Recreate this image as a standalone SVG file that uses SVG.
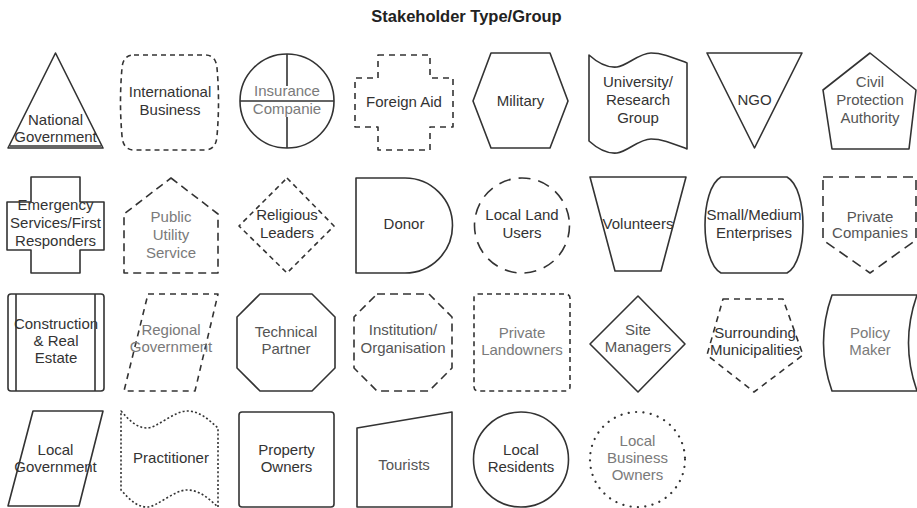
<svg xmlns="http://www.w3.org/2000/svg" width="917" height="508" viewBox="0 0 917 508">
<style>
  .s { fill: #fff; stroke: #333; stroke-width: 1.6; stroke-linejoin: round; }
  .ln { fill: none; stroke: #333; stroke-width: 1.6; }
  .d4 { stroke-dasharray: 5 4; }
  .d6 { stroke-dasharray: 6 5; }
  .d8 { stroke-dasharray: 8 5; }
  .d10 { stroke-dasharray: 10 6; }
  .d12 { stroke-dasharray: 12 8; }
  .dot { stroke-dasharray: 2 2.2; }
  .pt { stroke-dasharray: 0.1 7.3; stroke-linecap: round; stroke-width: 2.2; }
  text { font-family: "Liberation Sans", Arial, sans-serif; font-size: 15px; text-anchor: middle; fill: #333; }
  .lt { fill: #7a7a7a; }
  .md { fill: #555; }
  .title { font-weight: bold; font-size: 16.5px; fill: #222; }
</style>
<rect width="917" height="508" fill="#fff"/>
<text class="title" x="466.5" y="22">Stakeholder Type/Group</text>
<g id="connectors"/>

<!-- Row 1 -->
<g id="national-government">
  <polygon class="s" points="55.5,53 103,148 8,148"/>
  <line class="ln" x1="10" y1="146" x2="101" y2="146"/>
  <text x="55.5" y="125">National</text>
  <text x="55.5" y="142">Government</text>
</g>
<g id="international-business">
  <path class="s d4" d="M134,55 L205,55 Q216,55 217,68 Q220,102 217,136 Q216,150 205,150 L134,150 Q123,150 122,136 Q119,102 122,68 Q123,55 134,55 Z"/>
  <text x="170" y="97">International</text>
  <text x="170" y="115">Business</text>
</g>
<g id="insurance-companie">
  <circle class="s" cx="287" cy="101" r="47"/>
  <path class="ln" d="M240,101 H334 M287,54 V86 M287,117 V148"/>
  <text class="lt" x="287" y="96">Insurance</text>
  <text class="lt" x="287" y="114">Companie</text>
</g>
<g id="foreign-aid">
  <path class="s d6" d="M378,55 H430 V78 H453 V127 H430 V150 H378 V127 H355 V78 H378 Z"/>
  <text x="404" y="107">Foreign Aid</text>
</g>
<g id="military">
  <polygon class="s" points="473,101 491,53 550,53 568,101 550,148 491,148"/>
  <text x="520.5" y="106">Military</text>
</g>
<g id="university">
  <path class="s" d="M589,55 C599,64 607,68 617,67 C627,66 639,53 651,53 C663,53 674,58 687,63 L687,149 C674,144 663,139 651,139 C639,139 627,152 617,153 C607,154 599,150 589,141 Z"/>
  <text x="638" y="87">University/</text>
  <text x="638" y="105">Research</text>
  <text x="638" y="123">Group</text>
</g>
<g id="ngo">
  <polygon class="s" points="707,53 802,53 754.5,148"/>
  <text x="754.5" y="105">NGO</text>
</g>
<g id="civil-protection-authority">
  <polygon class="s" points="870,53 916,90 909,149 832,149 823,90"/>
  <text class="md" x="870" y="87">Civil</text>
  <text class="md" x="870" y="105">Protection</text>
  <text class="md" x="870" y="123">Authority</text>
</g>

<!-- Row 2 -->
<g id="emergency-services">
  <path class="s" stroke-width="2" d="M31,177 H80 V202 H104 V250 H80 V273 H31 V250 H7 V202 H31 Z"/>
  <text x="55.5" y="210">Emergency</text>
  <text x="55.5" y="228">Services/First</text>
  <text x="55.5" y="246">Responders</text>
</g>
<g id="public-utility-service">
  <polygon class="s d8" points="171,178 218,214 218,273 124,273 124,214"/>
  <text class="lt" x="171" y="222">Public</text>
  <text class="lt" x="171" y="240">Utility</text>
  <text class="lt" x="171" y="258">Service</text>
</g>
<g id="religious-leaders">
  <polygon class="s d4" points="287,178 334,226 287,273 239,226"/>
  <text x="287" y="220">Religious</text>
  <text x="287" y="238">Leaders</text>
</g>
<g id="donor">
  <path class="s" d="M356,178 H405 A47.5,47.5 0 0 1 405,273 H356 Z"/>
  <text x="404" y="229">Donor</text>
</g>
<g id="local-land-users">
  <circle class="s d12" cx="522" cy="225.5" r="47.5"/>
  <text x="522" y="220">Local Land</text>
  <text x="522" y="238">Users</text>
</g>
<g id="volunteers">
  <polygon class="s" points="590,177 686,177 661,271 615,271"/>
  <text x="638" y="229">Volunteers</text>
</g>
<g id="small-medium-enterprises">
  <path class="s" d="M721,177 H787 C798,183 803,205 803,225 C803,245 798,267 787,273 H721 C710,267 705,245 705,225 C705,205 710,183 721,177 Z"/>
  <text x="754" y="220">Small/Medium</text>
  <text x="754" y="238">Enterprises</text>
</g>
<g id="private-companies">
  <path class="s d10" d="M823,177 H916 V240 L870,273 L823,240 Z"/>
  <text class="md" x="870" y="222">Private</text>
  <text class="md" x="870" y="238">Companies</text>
</g>

<!-- Row 3 -->
<g id="construction-real-estate">
  <rect class="s" stroke-width="2" x="8" y="294" width="96" height="97" rx="3"/>
  <path class="ln" d="M16,294 V391 M95,294 V391"/>
  <text x="56" y="329">Construction</text>
  <text x="56" y="346">&amp; Real</text>
  <text x="56" y="363">Estate</text>
</g>
<g id="regional-government">
  <polygon class="s d6" points="148,294 218,294 195,391 124,391"/>
  <text class="lt" x="171" y="335">Regional</text>
  <text class="lt" x="171" y="352">Government</text>
</g>
<g id="technical-partner">
  <polygon class="s" points="260,294 312,294 335,317 335,368 312,391 260,391 237,368 237,317"/>
  <text class="md" x="286" y="337">Technical</text>
  <text class="md" x="286" y="354">Partner</text>
</g>
<g id="institution-organisation">
  <polygon class="s d8" points="377,294 429,294 452,317 452,368 429,391 377,391 354,368 354,317"/>
  <text class="md" x="403" y="335">Institution/</text>
  <text class="md" x="403" y="353">Organisation</text>
</g>
<g id="private-landowners">
  <rect class="s d4" x="474" y="294" width="96" height="97" rx="4"/>
  <text class="lt" x="522" y="338">Private</text>
  <text class="lt" x="522" y="355">Landowners</text>
</g>
<g id="site-managers">
  <polygon class="s" points="638,296 685,344 638,392 590,344"/>
  <text class="md" x="638" y="335">Site</text>
  <text class="md" x="638" y="352">Managers</text>
</g>
<g id="surrounding-municipalities">
  <polygon class="s d6" points="723,299 783,299 803,355 754,392 707,355"/>
  <text x="755" y="338">Surrounding</text>
  <text x="755" y="355">Municipalities</text>
</g>
<g id="policy-maker">
  <path class="s" d="M832,295 H917 Q900,343 917,391 H832 Q815,343 832,295 Z"/>
  <text class="lt" x="870" y="338">Policy</text>
  <text class="lt" x="870" y="355">Maker</text>
</g>

<!-- Row 4 -->
<g id="local-government">
  <polygon class="s" points="33,411 103,411 79,506 8,506"/>
  <text x="55.5" y="455">Local</text>
  <text x="55.5" y="472">Government</text>
</g>
<g id="practitioner">
  <path class="s dot" d="M121,411 C130,421 137,428 147,428 C157,428 174,411 187,411 C200,411 209,420 218,428 L218,507 C209,499 200,490 187,490 C174,490 157,507 147,507 C137,507 130,500 121,490 Z"/>
  <text x="171" y="463">Practitioner</text>
</g>
<g id="property-owners">
  <rect class="s" x="239" y="412" width="95" height="95" rx="3"/>
  <text x="286.5" y="455">Property</text>
  <text x="286.5" y="472">Owners</text>
</g>
<g id="tourists">
  <polygon class="s" points="357,428 452,412 452,507 357,507"/>
  <text class="md" x="404" y="470">Tourists</text>
</g>
<g id="local-residents">
  <circle class="s" cx="521" cy="459.5" r="47.5"/>
  <text x="521" y="455">Local</text>
  <text x="521" y="472">Residents</text>
</g>
<g id="local-business-owners">
  <circle class="s pt" cx="637.5" cy="459.5" r="47.5"/>
  <text class="lt" x="637.5" y="446">Local</text>
  <text class="lt" x="637.5" y="463">Business</text>
  <text class="lt" x="637.5" y="480">Owners</text>
</g>
</svg>
